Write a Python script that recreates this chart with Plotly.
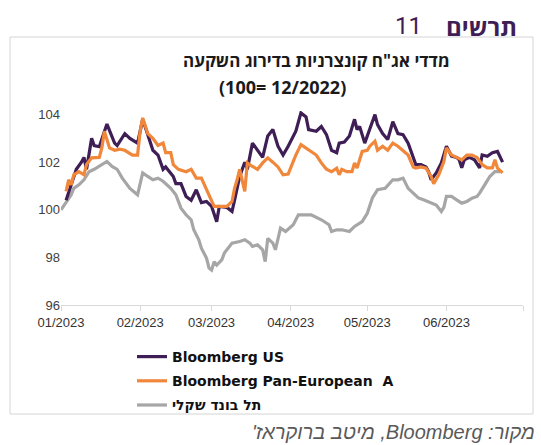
import plotly.graph_objects as go

# ---------------- data ----------------
us_dates = ["2023-01-03","2023-01-07","2023-01-09","2023-01-10","2023-01-11","2023-01-13","2023-01-14","2023-01-16",
            "2023-01-19","2023-01-20","2023-01-22","2023-01-23","2023-01-26","2023-01-28","2023-01-31","2023-02-02",
            "2023-02-04","2023-02-06","2023-02-08","2023-02-10","2023-02-11","2023-02-13","2023-02-14","2023-02-15",
            "2023-02-17","2023-02-19","2023-02-21","2023-02-23","2023-02-25","2023-02-27","2023-03-01","2023-03-03",
            "2023-03-04","2023-03-07","2023-03-09","2023-03-10","2023-03-12","2023-03-14","2023-03-15","2023-03-17",
            "2023-03-19","2023-03-21","2023-03-23","2023-03-25","2023-03-27","2023-03-29","2023-03-31","2023-04-02",
            "2023-04-03","2023-04-05","2023-04-07","2023-04-08","2023-04-11","2023-04-13","2023-04-15","2023-04-17",
            "2023-04-19","2023-04-20","2023-04-22","2023-04-24","2023-04-26","2023-04-27","2023-04-28","2023-04-30",
            "2023-05-02","2023-05-04","2023-05-05","2023-05-07","2023-05-09","2023-05-11","2023-05-13","2023-05-15",
            "2023-05-17","2023-05-19","2023-05-20","2023-05-22","2023-05-24","2023-05-25","2023-05-26","2023-05-28",
            "2023-05-30","2023-06-01","2023-06-03","2023-06-05","2023-06-06","2023-06-07","2023-06-08","2023-06-10",
            "2023-06-12","2023-06-14","2023-06-15","2023-06-17","2023-06-19","2023-06-21","2023-06-23"]
us_values = [100.4,101.7,102.0,102.2,101.7,103.0,102.7,102.65,
             103.6,103.3,102.8,102.7,103.2,103.0,102.8,103.8,
             103.1,102.5,102.3,101.7,101.8,101.5,101.4,101.1,
             101.1,100.56,100.4,100.84,100.3,100.35,100.14,99.5,
             100.14,100.1,99.93,100.4,101.4,102.0,101.7,102.8,
             102.5,102.2,103.1,103.37,102.67,102.3,102.67,103.1,
             103.3,104.07,103.9,103.37,103.3,103.5,103.16,102.5,
             102.4,102.8,102.85,103.1,103.8,103.37,103.5,102.8,
             103.37,104.0,103.58,103.2,102.95,103.7,103.2,103.16,
             102.8,102.2,101.9,101.9,101.8,101.6,101.26,101.55,
             101.97,102.67,102.25,102.2,102.1,101.76,102.1,102.2,
             102.1,101.76,102.3,102.25,102.4,102.45,102.0]

eu_dates = ["2023-01-03","2023-01-04","2023-01-05","2023-01-06","2023-01-08","2023-01-10","2023-01-11","2023-01-13",
            "2023-01-16","2023-01-17","2023-01-18","2023-01-20","2023-01-22","2023-01-24","2023-01-26","2023-01-29",
            "2023-01-31","2023-02-01","2023-02-02","2023-02-04","2023-02-06","2023-02-08","2023-02-10","2023-02-11",
            "2023-02-13","2023-02-14","2023-02-16","2023-02-19","2023-02-21","2023-02-23","2023-02-25","2023-02-27",
            "2023-03-02","2023-03-04","2023-03-07","2023-03-09","2023-03-10","2023-03-11","2023-03-12","2023-03-14",
            "2023-03-15","2023-03-17","2023-03-19","2023-03-21","2023-03-23","2023-03-25","2023-03-27","2023-03-29",
            "2023-03-31","2023-04-02","2023-04-03","2023-04-05","2023-04-08","2023-04-11","2023-04-13","2023-04-15",
            "2023-04-17","2023-04-19","2023-04-20","2023-04-21","2023-04-23","2023-04-25","2023-04-26","2023-04-27",
            "2023-04-29","2023-05-01","2023-05-02","2023-05-04","2023-05-05","2023-05-07","2023-05-09","2023-05-11",
            "2023-05-13","2023-05-15","2023-05-17","2023-05-19","2023-05-20","2023-05-22","2023-05-24","2023-05-26",
            "2023-05-27","2023-05-29","2023-05-31","2023-06-01","2023-06-03","2023-06-05","2023-06-07","2023-06-09",
            "2023-06-11","2023-06-13","2023-06-15","2023-06-17","2023-06-19","2023-06-20","2023-06-21","2023-06-23"]
eu_values = [100.77,101.26,101.05,101.47,101.6,101.47,101.9,102.18,
             102.2,102.6,103.3,102.6,102.5,102.55,102.5,102.3,
             102.3,103.3,103.86,103.2,103.0,102.7,102.8,102.4,
             102.4,101.9,101.7,101.6,101.7,101.33,101.33,100.84,
             100.14,100.14,100.14,100.35,100.9,101.26,101.7,100.77,
             101.97,101.82,101.7,101.97,102.18,102.0,101.8,101.47,
             101.5,102.03,102.3,102.74,102.5,102.3,101.97,101.7,
             101.6,101.75,101.47,101.7,101.6,101.6,101.97,101.75,
             102.45,102.5,102.67,102.88,102.5,102.67,102.5,102.8,
             102.67,102.5,102.3,101.8,101.75,101.8,101.75,101.4,
             101.1,101.47,102.03,102.6,102.3,102.2,102.1,102.3,
             102.3,102.2,101.9,101.76,101.76,102.1,101.75,101.55]

tb_dates = ["2023-01-01","2023-01-03","2023-01-05","2023-01-06","2023-01-08","2023-01-10","2023-01-12","2023-01-14",
            "2023-01-16","2023-01-19","2023-01-21","2023-01-23","2023-01-25","2023-01-28","2023-01-31","2023-02-02",
            "2023-02-04","2023-02-06","2023-02-08","2023-02-10","2023-02-13","2023-02-15","2023-02-17","2023-02-19",
            "2023-02-21","2023-02-22","2023-02-24","2023-02-25","2023-02-27","2023-02-28","2023-03-01","2023-03-02",
            "2023-03-03","2023-03-05","2023-03-06","2023-03-08","2023-03-09","2023-03-12","2023-03-14","2023-03-16",
            "2023-03-17","2023-03-19","2023-03-21","2023-03-22","2023-03-23","2023-03-25","2023-03-26","2023-03-28",
            "2023-03-30","2023-04-02","2023-04-04","2023-04-07","2023-04-09","2023-04-13","2023-04-16","2023-04-17",
            "2023-04-19","2023-04-21","2023-04-24","2023-04-26","2023-04-29","2023-05-01","2023-05-03","2023-05-05",
            "2023-05-08","2023-05-11","2023-05-13","2023-05-15","2023-05-17","2023-05-19","2023-05-21","2023-05-23",
            "2023-05-26","2023-05-28","2023-05-30","2023-05-31","2023-06-01","2023-06-03","2023-06-05","2023-06-07",
            "2023-06-09","2023-06-11","2023-06-13","2023-06-14","2023-06-16","2023-06-18","2023-06-20","2023-06-22"]
tb_values = [100.0,100.3,100.63,100.9,101.05,101.26,101.6,101.7,
             101.82,102.03,101.82,101.7,101.33,100.9,100.63,101.55,
             101.4,101.26,101.33,101.2,100.9,100.63,100.07,99.79,
             99.58,99.16,98.74,98.39,97.97,97.55,97.47,97.82,
             97.68,97.9,98.18,98.46,98.6,98.67,98.74,98.6,
             98.46,98.53,98.32,97.82,98.8,98.6,98.32,99.23,
             99.09,99.37,99.79,99.79,99.79,99.58,99.37,99.09,
             99.16,99.16,99.09,99.3,99.5,99.85,100.5,100.84,
             100.9,101.26,101.26,101.33,100.9,100.7,100.5,100.42,
             100.28,100.2,99.93,100.1,100.56,100.56,100.42,100.28,
             100.35,100.49,100.56,100.7,101.05,101.4,101.6,101.6]

series_names = ["Bloomberg US", "Bloomberg Pan-European  A", "תל בונד שקלי"]
series_colors = ["#3F1E55", "#F0873A", "#A6A6A6"]

tick_vals = ["2023-01-01","2023-02-01","2023-03-01","2023-04-01","2023-05-01","2023-06-01","2023-07-01"]
tick_text = ["01/2023","02/2023","03/2023","04/2023","05/2023","06/2023",""]
y_ticks = [96, 98, 100, 102, 104]

title_line1 = 'מדדי אג"ח קונצרניות בדירוג השקעה'
title_line2 = "(100= 12/2022)"
fig_label_word = "תרשים"
fig_label_num = "11"
source_text = "\u202bמקור: Bloomberg, מיטב ברוקראז'\u202c"

# ---------------- figure ----------------
fig = go.Figure()
fig.add_trace(go.Scatter(x=tb_dates, y=tb_values, name=series_names[2], mode="lines",
                         line=dict(color=series_colors[2], width=3.2), legendrank=3, legendgroup="c"))
fig.add_trace(go.Scatter(x=us_dates, y=us_values, name=series_names[0], mode="lines",
                         line=dict(color=series_colors[0], width=3.2), legendrank=1, legendgroup="a"))
fig.add_trace(go.Scatter(x=eu_dates, y=eu_values, name=series_names[1], mode="lines",
                         line=dict(color=series_colors[1], width=3.2), legendrank=2, legendgroup="b"))

L, R, T, B = 61, 18, 111, 140
W, H = 541, 445
pw, ph = W - L - R, H - T - B

def px(x):
    return (x - L) / pw

def py(y):
    return (H - B - y) / ph

fig.update_layout(
    width=W, height=H,
    margin=dict(l=L, r=R, t=T, b=B),
    paper_bgcolor="white", plot_bgcolor="white",
    font=dict(family="Liberation Sans, Arial, sans-serif", color="#404040"),
    showlegend=True,
    legend=dict(x=px(132), y=py(341), xanchor="left", yanchor="top",
                font=dict(size=14, color="#111111", family="DejaVu Sans, sans-serif", weight="bold"),
                tracegroupgap=3, bgcolor="rgba(0,0,0,0)", itemwidth=30),
    xaxis=dict(type="date", range=["2023-01-01", "2023-07-01"], tickvals=tick_vals, ticktext=tick_text,
               showgrid=False, zeroline=False, showline=True, linecolor="#D9D9D9", linewidth=1,
               ticks="outside", ticklen=5, tickcolor="#D9D9D9",
               tickfont=dict(size=13, color="#333333")),
    yaxis=dict(range=[96, 104.15], tickvals=y_ticks, showgrid=False, zeroline=False, showline=False,
               ticks="", tickfont=dict(size=13, color="#404040")),
)

# outer frame
fig.add_shape(type="rect", xref="paper", yref="paper",
              x0=px(10), x1=px(533), y0=py(414), y1=py(37),
              line=dict(color="#D4D4D4", width=1), fillcolor="rgba(0,0,0,0)", layer="above")

# titles
fig.add_annotation(xref="paper", yref="paper", x=px(316), y=py(60), text="<b>" + title_line1 + "</b>",
                   showarrow=False, xanchor="center", yanchor="middle",
                   font=dict(size=17, color="#1a1a1a", family="Open Sans, Liberation Sans, sans-serif"))
fig.add_annotation(xref="paper", yref="paper", x=px(282), y=py(87), text="<b>" + title_line2 + "</b>",
                   showarrow=False, xanchor="center", yanchor="middle",
                   font=dict(size=18, color="#1a1a1a", family="Open Sans, Liberation Sans, sans-serif"))
fig.add_annotation(xref="paper", yref="paper", x=px(519), y=py(26), text="<b>" + fig_label_word + "</b>",
                   showarrow=False, xanchor="right", yanchor="middle",
                   font=dict(size=24, color="#3F1E55", family="Open Sans, DejaVu Sans, sans-serif"))
fig.add_annotation(xref="paper", yref="paper", x=px(424), y=py(26), text=fig_label_num,
                   showarrow=False, xanchor="right", yanchor="middle",
                   font=dict(size=24, color="#3F1E55", family="Roboto, sans-serif"))
fig.add_annotation(xref="paper", yref="paper", x=px(537), y=py(432), text="<i>" + source_text + "</i>",
                   showarrow=False, xanchor="right", yanchor="middle",
                   font=dict(size=20, color="#595959", family="Liberation Sans, Arial, sans-serif"))

fig.write_html("out.html", config={"displayModeBar": False},
               post_script="document.body.style.margin='0';")
